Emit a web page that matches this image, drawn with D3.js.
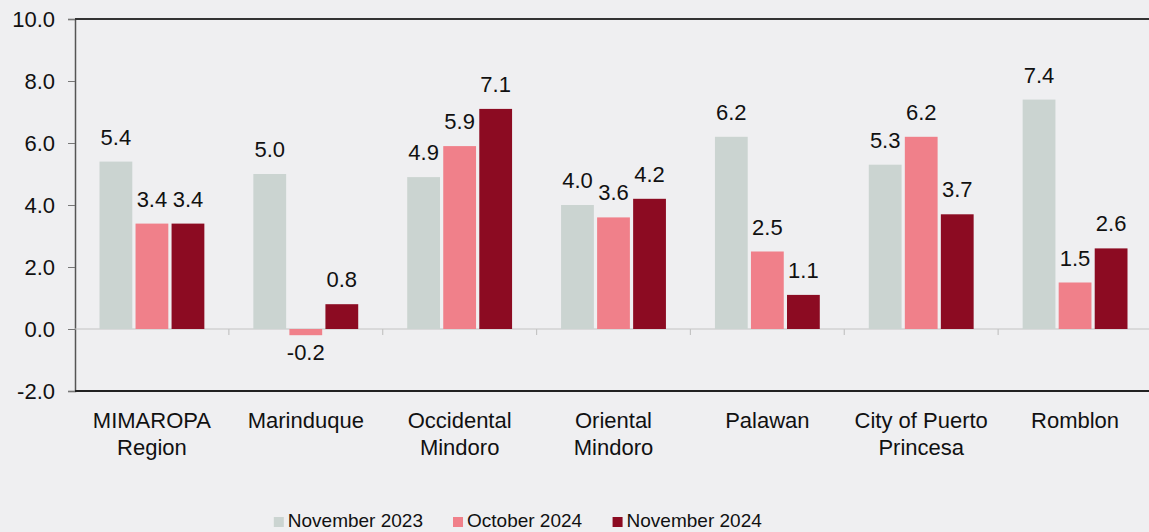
<!DOCTYPE html>
<html>
<head>
<meta charset="utf-8">
<script src="https://cdn.jsdelivr.net/npm/d3@7"></script>
<style>
  html, body { margin: 0; padding: 0; background: #efeff1; }
  svg { display: block; }
  text { font-family: "Liberation Sans", Arial, sans-serif; fill: #111; }
</style>
</head>
<body>
<svg id="chart" width="1149" height="532"></svg>
<script>
const categories = [
  ["MIMAROPA", "Region"],
  ["Marinduque"],
  ["Occidental", "Mindoro"],
  ["Oriental", "Mindoro"],
  ["Palawan"],
  ["City of Puerto", "Princesa"],
  ["Romblon"]
];
const seriesNames = ["November 2023", "October 2024", "November 2024"];
const nov2023 = [5.4, 5.0, 4.9, 4.0, 6.2, 5.3, 7.4];
const oct2024 = [3.4, -0.2, 5.9, 3.6, 2.5, 6.2, 1.5];
const nov2024 = [3.4, 0.8, 7.1, 4.2, 1.1, 3.7, 2.6];
const yTicks = [-2, 0, 2, 4, 6, 8, 10];
const colors = ["#cbd4d1", "#f0808a", "#8c0b22"];

const series = [nov2023, oct2024, nov2024];
const fmt = v => d3.format(".1f")(v).replace("\u2212", "-");
const svg = d3.select("#chart");
const mLeft = 75, mRight = 1152, mTop = 19, mBottom = 391;

const catIdx = d3.range(categories.length);
const x0 = d3.scaleBand().domain(catIdx).range([mLeft, mRight]).paddingInner(0).paddingOuter(0);
const x1 = d3.scaleBand().domain(d3.range(series.length))
  .range([24.5, x0.bandwidth() - 24.5]).paddingInner(0.09).paddingOuter(0);
const y = d3.scaleLinear().domain([-2, 10]).range([mBottom, mTop]);

// y axis
const yAxis = d3.axisLeft(y).tickValues(yTicks).tickFormat(fmt).tickSize(7).tickPadding(13);
const ya = svg.append("g").attr("transform", `translate(${mLeft},0)`).call(yAxis);
ya.select(".domain").attr("stroke", "#555").attr("stroke-width", 1.5);
ya.selectAll(".tick line").attr("stroke", "#777");
ya.selectAll(".tick text").attr("font-size", 22).style("font-family", "Liberation Sans, Arial, sans-serif").attr("fill", "#111");

// frame top/bottom
svg.append("line").attr("x1", mLeft).attr("x2", 1149).attr("y1", y(10)).attr("y2", y(10)).attr("stroke", "#333").attr("stroke-width", 2);
svg.append("line").attr("x1", mLeft).attr("x2", 1149).attr("y1", y(-2)).attr("y2", y(-2)).attr("stroke", "#222").attr("stroke-width", 2);

// zero line
svg.append("line").attr("x1", mLeft).attr("x2", 1149).attr("y1", y(0)).attr("y2", y(0)).attr("stroke", "#c4c4c4").attr("stroke-width", 1.2);
// category separators
svg.append("g").selectAll("line").data(d3.range(1, categories.length + 1)).join("line")
  .attr("x1", d => mLeft + d * x0.bandwidth()).attr("x2", d => mLeft + d * x0.bandwidth())
  .attr("y1", y(0)).attr("y2", y(0) + 6).attr("stroke", "#c4c4c4").attr("stroke-width", 1.2);

// bars
const groups = svg.append("g").selectAll("g").data(catIdx).join("g")
  .attr("transform", i => `translate(${x0(i)},0)`);
groups.selectAll("rect").data(i => series.map((s, k) => ({k, v: s[i]}))).join("rect")
  .attr("x", d => x1(d.k)).attr("width", x1.bandwidth())
  .attr("y", d => y(Math.max(0, d.v)))
  .attr("height", d => Math.abs(y(d.v) - y(0)))
  .attr("fill", d => colors[d.k]);
groups.selectAll("text.val").data(i => series.map((s, k) => ({k, v: s[i]}))).join("text")
  .attr("class", "val")
  .attr("x", d => x1(d.k) + x1.bandwidth() / 2)
  .attr("y", d => d.v >= 0 ? y(d.v) - 17 : y(d.v) + 25)
  .attr("text-anchor", "middle").attr("font-size", 22)
  .text(d => fmt(d.v));

// category labels
const cl = svg.append("g").selectAll("text").data(catIdx).join("text")
  .attr("x", i => x0(i) + x0.bandwidth() / 2)
  .attr("y", 428).attr("text-anchor", "middle").attr("font-size", 22);
cl.selectAll("tspan").data(i => categories[i]).join("tspan")
  .attr("x", function() { return d3.select(this.parentNode).attr("x"); })
  .attr("dy", (d, j) => j === 0 ? 0 : 27).text(d => d);

// legend
const legend = svg.append("g");
const items = legend.selectAll("g").data(seriesNames).join("g");
items.append("rect").attr("width", 10).attr("height", 10).attr("y", -10).attr("fill", (d, k) => colors[k]);
items.append("text").attr("x", 14).attr("y", 0).attr("font-size", 19).text(d => d);
let cx = 0;
items.each(function() {
  d3.select(this).attr("transform", `translate(${cx},0)`);
  cx += this.getBBox().width + 30;
});
const totalW = cx - 30;
legend.attr("transform", `translate(${518 - totalW / 2},527)`);
</script>
</body>
</html>
